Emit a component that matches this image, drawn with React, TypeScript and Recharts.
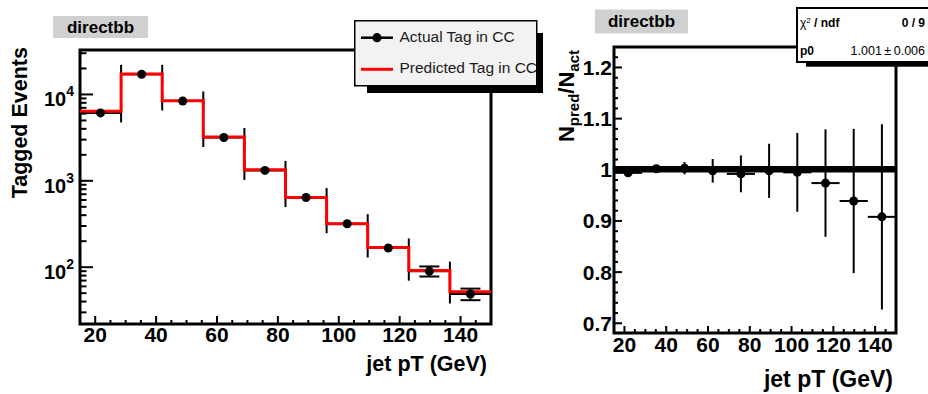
import {
  ComposedChart,
  ErrorBar,
  Line,
  ReferenceArea,
  ReferenceLine,
  Scatter,
  XAxis,
  YAxis,
} from "recharts";

// histogram binning (jet pT, GeV)
const binCenters = [21.75, 35.25, 48.75, 62.25, 75.75, 89.25, 102.75, 116.25, 129.75, 143.25];
const binEdges = [15, 28.5, 42, 55.5, 69, 82.5, 96, 109.5, 123, 136.5, 150];
const binHalfWidth = [6.75, 6.75, 6.75, 6.75, 6.75, 6.75, 6.75, 6.75, 6.75, 6.75];

// left pad: tagged events
const actualTag = [6110, 17100, 8400, 3170, 1320, 640, 319, 167, 90, 49];
const actualErr = [null, null, null, null, null, null, null, null, 12, 7.5];
const predictedTag = [6390, 17300, 8450, 3220, 1340, 640, 319, 169, 91.5, 52];

// right pad: N_pred / N_act
const ratio = [0.994, 1.002, 1.003, 0.998, 0.992, 0.998, 0.995, 0.974, 0.939, 0.908];
const ratioErr = [0.008, 0.005, 0.012, 0.023, 0.036, 0.053, 0.077, 0.105, 0.141, 0.181];
const fitP0 = 1.001;

// axes
const xTicks = [20, 25, 30, 35, 40, 45, 50, 55, 60, 65, 70, 75, 80, 85, 90, 95, 100, 105, 110, 115, 120, 125, 130, 135, 140, 145];
const xMajor = [20, 40, 60, 80, 100, 120, 140];
const xLabels = ["20", "40", "60", "80", "100", "120", "140"];
const logTicks = [
  30, 40, 50, 60, 70, 80, 90, 100, 200, 300, 400, 500, 600, 700, 800, 900, 1000,
  2000, 3000, 4000, 5000, 6000, 7000, 8000, 9000, 10000, 20000, 30000,
];
const logMajor = [100, 1000, 10000];
const logExponents = ["2", "3", "4"];
const ratioTicks = [
  0.7, 0.72, 0.74, 0.76, 0.78, 0.8, 0.82, 0.84, 0.86, 0.88, 0.9, 0.92, 0.94, 0.96, 0.98,
  1, 1.02, 1.04, 1.06, 1.08, 1.1, 1.12, 1.14, 1.16, 1.18, 1.2, 1.22,
];
const ratioMajor = [0.7, 0.8, 0.9, 1, 1.1, 1.2];
const ratioLabels = ["0.7", "0.8", "0.9", "1", "1.1", "1.2"];

const legendNames = ["Actual Tag in CC", "Predicted Tag in CC"];
const padTitle = "directbb";
const xTitle = "jet pT (GeV)";
const statNames = ["ndf", "p0"];
const statValues = ["0 / 9", "1.001\u2009\u00b1\u20090.006"];

const FONT = '"Liberation Sans", Arial, Helvetica, sans-serif';

const actualPoints = binCenters.map((x, i) => ({
  x,
  y: actualTag[i],
  xErr: binHalfWidth[i],
  yErr: actualErr[i],
}));
const stepPoints = binEdges.map((x, i) => ({
  x,
  y: predictedTag[Math.min(i, predictedTag.length - 1)],
}));
const ratioPoints = binCenters.map((x, i) => ({
  x,
  y: ratio[i],
  xErr: binHalfWidth[i],
  yErr: ratioErr[i],
}));

const noShape = () => <g />;

const findIdx = (arr: number[], v: number) => arr.findIndex((m) => Math.abs(m - v) < 1e-6);

const makeXTick = (labelDy: number, majLen: number) => (props: any) => {
  const { x, y, payload } = props;
  const idx = findIdx(xMajor, payload.value);
  const len = idx >= 0 ? majLen : 4;
  return (
    <g>
      <line x1={x} y1={y - 1} x2={x} y2={y - len} stroke="#000" strokeWidth={2} />
      {idx >= 0 && (
        <text x={x} y={y + labelDy} textAnchor="middle" fontFamily={FONT} fontWeight="bold" fontSize={21} fill="#000">
          {xLabels[idx]}
        </text>
      )}
    </g>
  );
};

const LogTick = (props: any) => {
  const { x, y, payload } = props;
  const idx = findIdx(logMajor, payload.value);
  return (
    <g>
      <line x1={x + 1} y1={y} x2={x + (idx >= 0 ? 13 : 6.5)} y2={y} stroke="#000" strokeWidth={2} />
      {idx >= 0 && (
        <text x={x - 6} y={y + 12} textAnchor="end" fontFamily={FONT} fontWeight="bold" fontSize={20} fill="#000">
          10
          <tspan dy={-10} fontSize={14}>
            {logExponents[idx]}
          </tspan>
        </text>
      )}
    </g>
  );
};

const RatioTick = (props: any) => {
  const { x, y, payload } = props;
  const idx = findIdx(ratioMajor, payload.value);
  return (
    <g>
      <line x1={x + 1} y1={y} x2={x + (idx >= 0 ? 8 : 4)} y2={y} stroke="#000" strokeWidth={2} />
      {idx >= 0 && (
        <text x={x - 2} y={y + 7.5} textAnchor="end" fontFamily={FONT} fontWeight="bold" fontSize={21} fill="#000">
          {ratioLabels[idx]}
        </text>
      )}
    </g>
  );
};

function TagPad() {
  return (
    <ComposedChart width={500} height={394} margin={{ top: 50, right: 9, bottom: 0, left: 0 }}>
      <XAxis
        type="number"
        dataKey="x"
        domain={[15, 150]}
        allowDataOverflow
        ticks={xTicks}
        interval={0}
        tick={makeXTick(17.5, 8)}
        tickLine={false}
        axisLine={false}
        tickSize={0}
        tickMargin={0}
        height={70}
      />
      <YAxis
        type="number"
        scale="log"
        domain={[22, 32700]}
        allowDataOverflow
        ticks={logTicks}
        interval={0}
        tick={LogTick}
        tickLine={false}
        axisLine={false}
        tickSize={0}
        tickMargin={0}
        width={80}
      />
      {/* error bars sit under the red prediction, markers on top */}
      <Scatter data={actualPoints} dataKey="y" shape={noShape} isAnimationActive={false}>
        <ErrorBar dataKey="xErr" direction="x" width={9.5} strokeWidth={2} stroke="#000" />
        <ErrorBar dataKey="yErr" direction="y" width={10} strokeWidth={2} stroke="#000" />
      </Scatter>
      <Line
        data={stepPoints}
        dataKey="y"
        type="stepAfter"
        stroke="#ff0000"
        strokeWidth={3}
        dot={false}
        activeDot={false}
        isAnimationActive={false}
      />
      <Scatter data={actualPoints} dataKey="y" fill="#000" isAnimationActive={false} />
      <ReferenceArea x1={15} x2={150} y1={22} y2={32700} fill="none" stroke="#000" strokeWidth={3} />
    </ComposedChart>
  );
}

function RatioPad() {
  return (
    <ComposedChart width={388} height={394} margin={{ top: 47, right: 32, bottom: 0, left: 0 }}>
      <XAxis
        type="number"
        dataKey="x"
        domain={[15, 150]}
        allowDataOverflow
        ticks={xTicks}
        interval={0}
        tick={makeXTick(19, 7)}
        tickLine={false}
        axisLine={false}
        tickSize={0}
        tickMargin={0}
        height={61}
      />
      <YAxis
        type="number"
        domain={[0.681, 1.24]}
        allowDataOverflow
        ticks={ratioTicks}
        interval={0}
        tick={RatioTick}
        tickLine={false}
        axisLine={false}
        tickSize={0}
        tickMargin={0}
        width={74}
      />
      <Scatter data={ratioPoints} dataKey="y" fill="#000" isAnimationActive={false}>
        <ErrorBar dataKey="xErr" direction="x" width={0} strokeWidth={2} stroke="#000" />
        <ErrorBar dataKey="yErr" direction="y" width={0} strokeWidth={2} stroke="#000" />
      </Scatter>
      <ReferenceLine y={fitP0} stroke="#000" strokeWidth={6.5} />
      <ReferenceArea x1={15} x2={150} y1={0.681} y2={1.24} fill="none" stroke="#000" strokeWidth={3} />
    </ComposedChart>
  );
}

function Overlay() {
  return (
    <svg width={928} height={394} style={{ position: "absolute", left: 0, top: 0, pointerEvents: "none" }} fontFamily={FONT}>
      <defs>
        <clipPath id="legclip">
          <rect x={355} y={21} width={181} height={64} />
        </clipPath>
      </defs>

      {/* pad labels */}
      <rect x={53} y={16} width={95} height={22} fill="#d0d0d0" />
      <text x={100.5} y={32.5} textAnchor="middle" fontWeight="bold" fontSize={17} fill="#000">
        {padTitle}
      </text>
      <rect x={595} y={9.5} width={93} height={24} fill="#d0d0d0" />
      <text x={641.5} y={26.5} textAnchor="middle" fontWeight="bold" fontSize={17} fill="#000">
        {padTitle}
      </text>

      {/* axis titles */}
      <text transform="translate(26.5,47) rotate(-90)" textAnchor="end" fontWeight="bold" fontSize={21.5} fill="#000">
        Tagged Events
      </text>
      <text x={487} y={370.5} textAnchor="end" fontWeight="bold" fontSize={21.5} fill="#000">
        {xTitle}
      </text>
      <text x={893} y={386.5} textAnchor="end" fontWeight="bold" fontSize={23} fill="#000">
        {xTitle}
      </text>
      <text transform="translate(574,50) rotate(-90)" textAnchor="end" fontWeight="bold" fontSize={22} fill="#000">
        N
        <tspan dy={5} fontSize={15}>
          pred
        </tspan>
        <tspan dy={-5}>/N</tspan>
        <tspan dy={5} fontSize={15}>
          act
        </tspan>
      </text>

      {/* legend */}
      <rect x={367} y={33} width={176} height={60} fill="#000" />
      <rect x={354.75} y={20.75} width={182} height={65} fill="#f2f2f2" stroke="#000" strokeWidth={1.5} />
      <line x1={361} y1={37.7} x2={393} y2={37.7} stroke="#000" strokeWidth={2.5} />
      <circle cx={377} cy={37.7} r={4.6} fill="#000" />
      <line x1={361} y1={69.3} x2={393} y2={69.3} stroke="#ff0000" strokeWidth={3} />
      <g clipPath="url(#legclip)">
        <text x={399.5} y={41.7} fontSize={15.5} fill="#1a1a1a">
          {legendNames[0]}
        </text>
        <text x={399.5} y={72.5} fontSize={15.5} fill="#1a1a1a">
          {legendNames[1]}
        </text>
      </g>

      {/* fit statistics */}
      <rect x={806} y={17} width={130} height={49.7} fill="#000" />
      <rect x={797} y={8} width={140} height={54} fill="#fff" stroke="#000" strokeWidth={2} />
      <text x={800} y={26.7} fontSize={12} fill="#000">
        {"\u03c7"}
        <tspan dy={-4} fontSize={8}>
          2
        </tspan>
        <tspan dy={4} fontWeight="bold">
          {" / " + statNames[0]}
        </tspan>
      </text>
      <text x={925} y={26.7} textAnchor="end" fontSize={12} fontWeight="bold" fill="#000">
        {statValues[0]}
      </text>
      <text x={800} y={55} fontSize={12} fontWeight="bold" fill="#000">
        {statNames[1]}
      </text>
      <text x={925} y={55} textAnchor="end" fontSize={12.5} fill="#000">
        {statValues[1]}
      </text>
    </svg>
  );
}

export default function App() {
  return (
    <div
      style={{
        position: "absolute",
        left: 0,
        top: 0,
        width: 928,
        height: 394,
        overflow: "hidden",
        background: "#fff",
      }}
    >
      <div style={{ position: "absolute", left: 0, top: 0 }}>
        <TagPad />
      </div>
      <div style={{ position: "absolute", left: 540, top: 0 }}>
        <RatioPad />
      </div>
      <Overlay />
    </div>
  );
}
